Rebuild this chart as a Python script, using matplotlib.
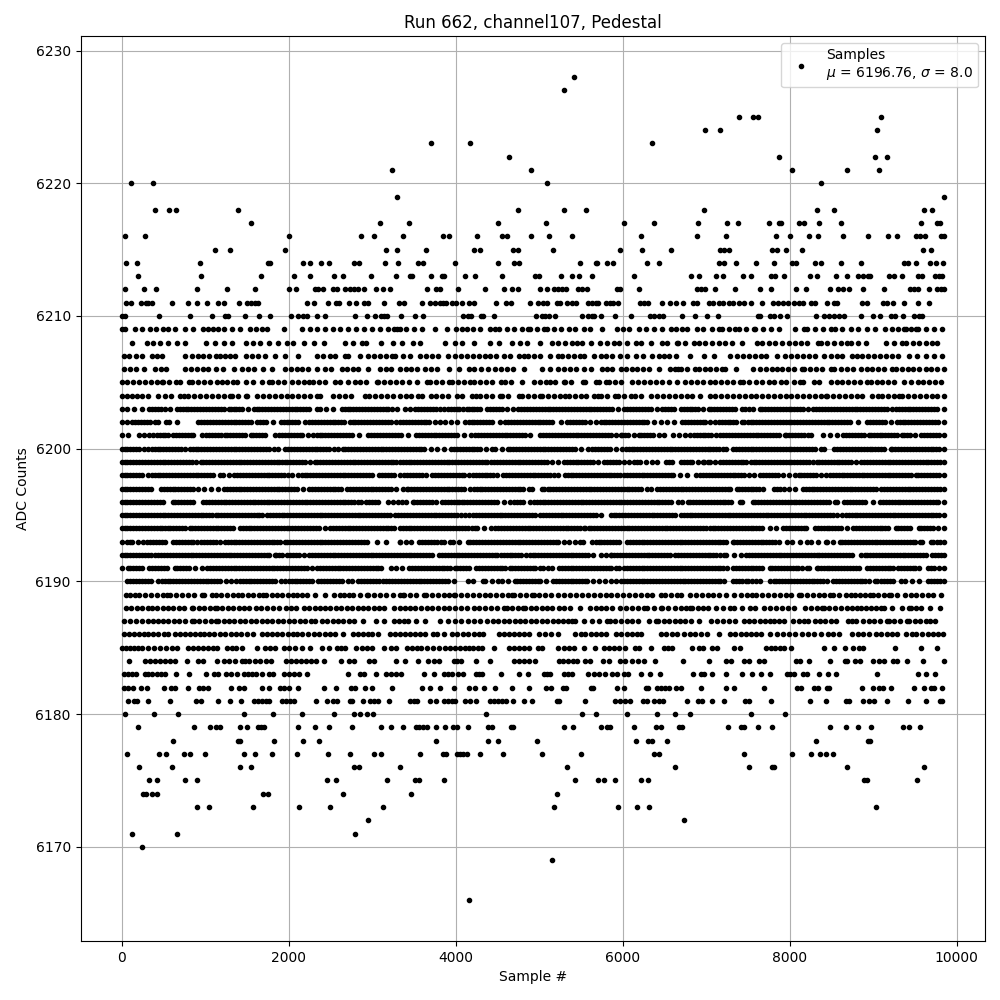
# pedestal samples of one ADC channel, one list of sample numbers per ADC level
import matplotlib
matplotlib.use("Agg")
import matplotlib.pyplot as plt

s6166 = [4160]
s6169 = [5148]
s6170 = [248]
s6171 = [128, 668, 2792]
s6172 = [2948, 6732]
s6173 = [908, 1052, 1568, 2120, 2492, 3128, 5172, 5940, 6168, 6312, 9036]
s6174 = [260, 292, 368, 428, 1688, 1748, 2648, 3464, 5208]
s6175 = [332, 428, 764, 908, 2456, 2564, 3176, 3512, 3560, 3860, 5424, 5700, 5772, 5904, 6216, 6300, 8892, 8928, 9528]
s6176 = [212, 608, 1412, 1544, 2780, 2840, 3332, 5328, 6624, 7512, 7788, 7812, 8688, 9612]
s6177 = [68, 452, 536, 752, 824, 1004, 1460, 1592, 1796, 2096, 2468, 2732, 3020, 3104, 3572, 3848, 3884, 4016, 4052, 4088, 4136,
         4292, 4568, 5028, 5496, 6372, 6432, 7452, 8028, 8256, 8364, 8436, 8520]
s6178 = [620, 1388, 1412, 1820, 2168, 2360, 3764, 4388, 4508, 4968, 6156, 6300, 6348, 6528, 8316, 8940, 8964]
s6179 = [200, 872, 1064, 1136, 1172, 1412, 1496, 1628, 1664, 1700, 2108, 2312, 2480, 2756, 3104, 3220, 3368, 3524, 3560, 3608, 3656,
         3764, 3872, 3968, 4016, 4148, 4388, 4436, 4664, 4688, 5292, 5400, 5736, 5808, 5844, 6132, 6404, 6464, 6672, 6708, 7260,
         7416, 7452, 7620, 7788, 8484, 8676, 8820, 8976, 9360, 9432, 9564]
s6180 = [44, 392, 680, 1460, 1808, 2156, 2540, 2780, 2852, 2936, 3008, 4364, 5508, 5676, 6048, 6408, 6624, 6804, 7536, 7944]
s6181 = [80, 152, 188, 320, 584, 896, 956, 1160, 1292, 1424, 1580, 1628, 1676, 1724, 1760, 1916, 1964, 2012, 2060, 2324, 2456, 2528,
         2576, 2732, 2760, 2888, 2972, 3020, 3068, 3200, 3452, 3500, 3536, 3692, 3764, 3860, 3908, 3956, 3992, 4112, 4172, 4244,
         4412, 4460, 4508, 4556, 4604, 4688, 4820, 4912, 5208, 5232, 5544, 5904, 5964, 6024, 6084, 6240, 6288, 6372, 6432, 6480,
         6768, 6900, 6948, 7068, 7212, 7464, 7512, 7776, 8244, 8436, 8676, 8712, 8880, 8952, 9012, 9168, 9420, 9636, 9804, 9828]
s6182 = [32, 80, 140, 236, 308, 512, 596, 636, 800, 932, 980, 1040, 1304, 1400, 1460, 1676, 1760, 1892, 1940, 2000, 2108, 2420, 2564,
         2744, 2792, 2912, 2996, 3236, 3596, 3692, 3812, 3980, 4160, 4232, 4336, 4472, 4676, 4880, 5076, 5136, 5280, 5316, 5616,
         5640, 5928, 6012, 6276, 6300, 6408, 6456, 6504, 6552, 6636, 6696, 6936, 7236, 7332, 7692, 8088, 8136, 8292, 8340, 8448,
         8472, 8868, 9000, 9072, 9120, 9216, 9492, 9612, 9696, 9732, 9828]
s6183 = [32, 80, 120, 172, 280, 320, 360, 420, 470, 520, 648, 812, 1016, 1112, 1160, 1248, 1310, 1380, 1460, 1510, 1560, 1612, 1680,
         1760, 1812, 1948, 2005, 2060, 2120, 2220, 2708, 2852, 2900, 3044, 3164, 3220, 3280, 3344, 3620, 3740, 3860, 3910, 3960,
         4032, 4088, 4240, 4280, 4320, 4548, 4760, 4860, 5052, 5092, 5132, 5292, 5342, 5392, 5580, 5652, 5712, 5792, 5872, 5932,
         6012, 6064, 6224, 6332, 6444, 6840, 6932, 6972, 7072, 7240, 7432, 7552, 7656, 7764, 7964, 8008, 8052, 8160, 8212, 8352,
         8460, 8556, 9040, 9532, 9636, 9744]
s6184 = [92, 280, 340, 400, 460, 520, 580, 640, 788, 920, 980, 1148, 1220, 1280, 1360, 1440, 1480, 1520, 1600, 1660, 1732, 1788, 1968,
         2030, 2090, 2150, 2210, 2270, 2330, 2420, 2628, 2720, 2780, 2960, 3020, 3280, 3392, 3548, 3668, 3740, 3800, 3980, 4020,
         4068, 4240, 4412, 4700, 4760, 4820, 4880, 4948, 5232, 5290, 5350, 5400, 5452, 5544, 5604, 5764, 5832, 5972, 6032, 6112,
         6180, 6252, 6384, 6720, 7032, 7232, 7296, 7452, 7512, 7632, 7692, 8076, 8124, 8232, 8484, 8664, 8688, 8784, 8844, 9000,
         9072, 9132, 9240, 9288, 9408, 9600, 9845]
s6185 = [0, 50, 100, 150, 200, 240, 315, 390, 460, 530, 600, 660, 800, 860, 920, 980, 1040, 1090, 1140, 1260, 1316, 1372, 1436, 1620,
         1712, 1776, 1840, 1940, 2010, 2080, 2160, 2260, 2400, 2480, 2580, 2630, 2680, 2804, 2880, 2940, 3000, 3140, 3220, 3284,
         3420, 3476, 3532, 3580, 3660, 3730, 3800, 3868, 3930, 3990, 4050, 4110, 4160, 4212, 4266, 4320, 4460, 4640, 4700, 4760,
         4820, 4880, 4988, 5028, 5224, 5292, 5352, 5412, 5532, 5664, 5780, 5840, 5900, 5960, 6032, 6152, 6192, 6336, 6492, 6542,
         6592, 6824, 6912, 6964, 7072, 7132, 7332, 7404, 7716, 7770, 7824, 7878, 7932, 8016, 8412, 8532, 8664, 8752, 8832, 8872,
         9264, 9576, 9768]
s6186 = [30, 90, 150, 210, 270, 320, 380, 440, 505, 550, 640, 700, 760, 820, 880, 940, 985, 1045, 1110, 1175, 1240, 1305, 1370, 1435,
         1500, 1575, 1685, 1745, 1805, 1865, 1925, 1990, 2055, 2095, 2165, 2235, 2300, 2365, 2430, 2495, 2560, 2655, 2765, 2830,
         2890, 2950, 2995, 3070, 3210, 3270, 3330, 3390, 3450, 3510, 3570, 3630, 3734, 3782, 3854, 3954, 4020, 4085, 4150, 4215,
         4280, 4324, 4518, 4580, 4640, 4700, 4760, 4820, 4882, 4994, 5066, 5138, 5222, 5434, 5498, 5554, 5620, 5680, 5734, 5794,
         5914, 5980, 6050, 6115, 6170, 6214, 6454, 6520, 6590, 6654, 6728, 6800, 6870, 6940, 7008, 7148, 7280, 7345, 7410, 7475,
         7540, 7600, 7656, 7760, 7848, 7920, 7995, 8068, 8148, 8220, 8295, 8368, 8456, 8520, 8588, 8748, 8815, 8880, 8948, 9028,
         9095, 9160, 9220, 9280, 9388, 9468, 9508, 9580, 9656, 9716, 9780, 9840]
s6187 = [30, 100, 170, 240, 310, 380, 430, 495, 560, 625, 690, 760, 840, 865, 930, 1000, 1065, 1130, 1155, 1220, 1285, 1350, 1415, 1480,
         1545, 1610, 1675, 1740, 1805, 1870, 1935, 2000, 2065, 2130, 2195, 2265, 2315, 2395, 2460, 2525, 2590, 2655, 2720, 2785,
         2885, 3050, 3140, 3260, 3320, 3382, 3434, 3526, 3634, 3814, 3902, 3994, 4066, 4142, 4215, 4286, 4374, 4446, 4510, 4575,
         4640, 4705, 4770, 4835, 4900, 4965, 5034, 5094, 5160, 5225, 5290, 5345, 5394, 5434, 5534, 5634, 5718, 5814, 5842, 5910,
         5980, 6050, 6115, 6182, 6314, 6394, 6422, 6490, 6555, 6620, 6686, 6750, 6820, 6908, 7060, 7130, 7200, 7275, 7348, 7448,
         7510, 7576, 7640, 7705, 7768, 7808, 7870, 7936, 8040, 8105, 8168, 8216, 8296, 8360, 8425, 8490, 8548, 8696, 8745, 8788,
         8880, 8948, 9010, 9080, 9160, 9188, 9250, 9320, 9400, 9428, 9495, 9560, 9625, 9680, 9736]
s6188 = [50, 115, 180, 245, 310, 360, 425, 490, 555, 620, 685, 750, 840, 860, 925, 990, 1055, 1120, 1140, 1205, 1270, 1335, 1400, 1465,
         1530, 1610, 1670, 1740, 1810, 1885, 1965, 2030, 2085, 2180, 2245, 2310, 2375, 2435, 2500, 2565, 2630, 2695, 2760, 2825, 2890,
         2955, 3020, 3085, 3145, 3260, 3330, 3390, 3450, 3514, 3582, 3654, 3720, 3790, 3855, 3924, 3994, 4060, 4130, 4214, 4282,
         4346, 4420, 4495, 4574, 4614, 4680, 4745, 4802, 4834, 4900, 4965, 5030, 5094, 5158, 5234, 5300, 5374, 5486, 5606, 5674,
         5740, 5805, 5874, 5966, 6034, 6110, 6180, 6254, 6294, 6375, 6454, 6474, 6540, 6620, 6694, 6760, 6808, 6828, 6900, 6960,
         7016, 7116, 7200, 7280, 7336, 7430, 7520, 7588, 7688, 7760, 7830, 7905, 7975, 8048, 8180, 8250, 8320, 8388, 8408, 8475,
         8540, 8610, 8680, 8745, 8800, 8848, 8910, 8975, 9035, 9088, 9130, 9228, 9348, 9428, 9456, 9510, 9568, 9680, 9800]
s6189 = [50, 105, 160, 210, 280, 350, 420, 490, 540, 585, 655, 725, 795, 865, 960, 985, 1085, 1125, 1195, 1265, 1335, 1395, 1445, 1510,
         1575, 1640, 1695, 1725, 1795, 1860, 1925, 1990, 2055, 2095, 2155, 2215, 2315, 2435, 2545, 2610, 2665, 2725, 2775, 2855,
         2935, 2955, 3025, 3095, 3165, 3250, 3330, 3366, 3386, 3450, 3520, 3622, 3646, 3715, 3785, 3855, 3925, 3974, 3994, 4065,
         4135, 4205, 4275, 4345, 4415, 4485, 4555, 4625, 4674, 4702, 4770, 4840, 4914, 4934, 5000, 5070, 5140, 5226, 5294, 5374,
         5445, 5515, 5585, 5655, 5725, 5795, 5865, 5935, 6005, 6075, 6145, 6215, 6285, 6355, 6454, 6506, 6575, 6646, 6700, 6808,
         6875, 6945, 7015, 7085, 7155, 7240, 7336, 7420, 7485, 7548, 7600, 7670, 7740, 7810, 7880, 7950, 8020, 8108, 8136, 8205,
         8275, 8345, 8415, 8476, 8520, 8595, 8668, 8728, 8785, 8845, 8905, 8960, 9000, 9060, 9125, 9188, 9216, 9285, 9376, 9448,
         9515, 9580, 9650, 9720, 9816]
s6190 = [70, 105, 140, 175, 210, 245, 280, 315, 350, 440, 480, 515, 550, 585, 620, 655, 690, 725, 760, 795, 830, 865, 900, 935, 970, 1005,
         1040, 1075, 1110, 1145, 1175, 1250, 1310, 1375, 1415, 1450, 1485, 1520, 1555, 1590, 1625, 1660, 1695, 1730, 1765, 1800, 1835,
         1905, 1955, 2000, 2035, 2070, 2105, 2140, 2175, 2210, 2245, 2280, 2355, 2390, 2425, 2460, 2495, 2530, 2565, 2600, 2635, 2715,
         2760, 2835, 2870, 2905, 2940, 2975, 3010, 3045, 3080, 3130, 3170, 3205, 3240, 3275, 3310, 3345, 3380, 3415, 3450, 3485, 3520,
         3555, 3590, 3625, 3660, 3695, 3730, 3765, 3800, 3835, 3870, 3905, 3974, 4142, 4210, 4326, 4354, 4430, 4502, 4554, 4630, 4714,
         4734, 4770, 4805, 4840, 4875, 4910, 4945, 4980, 5006, 5086, 5166, 5200, 5235, 5270, 5305, 5340, 5375, 5410, 5445, 5480, 5515,
         5545, 5574, 5642, 5714, 5786, 5860, 5920, 5974, 6014, 6050, 6085, 6120, 6155, 6190, 6225, 6260, 6295, 6330, 6365, 6400, 6435,
         6470, 6505, 6540, 6575, 6610, 6645, 6680, 6720, 6748, 6785, 6820, 6855, 6890, 6925, 6960, 6995, 7030, 7065, 7100, 7135, 7170,
         7216, 7320, 7355, 7395, 7430, 7470, 7505, 7545, 7600, 7648, 7768, 7805, 7840, 7875, 7910, 7945, 7980, 8015, 8050, 8085, 8120,
         8155, 8190, 8225, 8260, 8295, 8330, 8365, 8400, 8440, 8516, 8550, 8590, 8625, 8660, 8695, 8730, 8765, 8800, 8835, 8870, 8905,
         8948, 9016, 9050, 9090, 9125, 9160, 9195, 9230, 9328, 9376, 9460, 9548, 9656, 9690, 9730, 9765, 9800, 9845]
s6191 = [0, 80, 100, 135, 170, 205, 240, 330, 365, 400, 435, 470, 505, 540, 640, 665, 700, 735, 770, 805, 880, 960, 1025, 1060, 1095, 1130,
         1165, 1200, 1235, 1270, 1305, 1340, 1375, 1410, 1445, 1480, 1515, 1550, 1585, 1620, 1655, 1690, 1725, 1760, 1795, 1830, 1865,
         1900, 1935, 1970, 2005, 2040, 2075, 2110, 2145, 2180, 2215, 2275, 2340, 2375, 2410, 2445, 2480, 2515, 2550, 2585, 2620, 2655,
         2690, 2725, 2760, 2795, 2830, 2865, 2900, 2935, 2970, 3005, 3040, 3075, 3110, 3230, 3290, 3360, 3446, 3480, 3515, 3550, 3585,
         3620, 3655, 3690, 3725, 3760, 3795, 3830, 3865, 3900, 3935, 3994, 4014, 4050, 4085, 4125, 4164, 4244, 4280, 4315, 4350, 4385,
         4420, 4455, 4490, 4525, 4560, 4595, 4646, 4674, 4710, 4745, 4780, 4815, 4850, 4885, 4920, 4955, 5014, 5046, 5102, 5150, 5234,
         5270, 5305, 5340, 5375, 5410, 5445, 5480, 5515, 5550, 5585, 5620, 5655, 5690, 5725, 5760, 5795, 5830, 5865, 5914, 5954, 6014,
         6050, 6085, 6120, 6155, 6190, 6225, 6260, 6295, 6330, 6365, 6400, 6435, 6470, 6505, 6540, 6575, 6610, 6645, 6680, 6715, 6750,
         6785, 6820, 6855, 6890, 6925, 6960, 6995, 7030, 7065, 7100, 7135, 7170, 7205, 7248, 7320, 7355, 7390, 7425, 7460, 7495, 7530,
         7565, 7600, 7635, 7670, 7768, 7788, 7825, 7860, 7895, 7930, 7965, 8000, 8040, 8080, 8096, 8150, 8208, 8228, 8320, 8336, 8370,
         8405, 8440, 8475, 8510, 8545, 8580, 8615, 8650, 8685, 8720, 8755, 8790, 8825, 8928, 8960, 8995, 9030, 9065, 9100, 9135, 9170,
         9205, 9240, 9296, 9328, 9365, 9400, 9435, 9470, 9505, 9548, 9656, 9690, 9725, 9788, 9845]
s6192 = [0, 35, 70, 105, 140, 175, 210, 245, 280, 315, 350, 400, 440, 475, 510, 545, 580, 615, 650, 685, 720, 755, 790, 825, 860, 895, 930,
         965, 1000, 1035, 1070, 1105, 1140, 1175, 1210, 1245, 1280, 1315, 1350, 1385, 1420, 1455, 1490, 1525, 1560, 1595, 1630, 1665,
         1700, 1735, 1770, 1835, 1850, 1885, 1920, 1985, 2020, 2055, 2090, 2125, 2185, 2245, 2280, 2315, 2350, 2385, 2420, 2455, 2490,
         2525, 2560, 2595, 2630, 2665, 2700, 2735, 2770, 2805, 2840, 2875, 2910, 2945, 2980, 3015, 3050, 3085, 3120, 3155, 3190, 3225,
         3260, 3295, 3330, 3365, 3400, 3435, 3470, 3505, 3540, 3575, 3610, 3645, 3680, 3715, 3802, 3834, 3870, 3905, 3940, 3975, 4010,
         4045, 4080, 4115, 4150, 4185, 4220, 4255, 4290, 4325, 4360, 4395, 4430, 4465, 4500, 4546, 4574, 4610, 4645, 4680, 4715, 4750,
         4785, 4846, 4886, 4920, 4955, 4990, 5025, 5060, 5095, 5130, 5165, 5200, 5235, 5270, 5305, 5340, 5375, 5410, 5445, 5480, 5515,
         5550, 5585, 5646, 5742, 5800, 5854, 5862, 5900, 5935, 5970, 6005, 6040, 6075, 6110, 6145, 6180, 6215, 6250, 6285, 6320, 6355,
         6390, 6425, 6460, 6495, 6530, 6568, 6628, 6665, 6700, 6735, 6770, 6805, 6840, 6875, 6910, 6945, 6980, 7015, 7050, 7085, 7120,
         7160, 7208, 7240, 7328, 7416, 7480, 7515, 7550, 7585, 7620, 7655, 7690, 7725, 7760, 7795, 7830, 7865, 7900, 7935, 7970, 8005,
         8040, 8075, 8110, 8145, 8180, 8215, 8250, 8285, 8320, 8355, 8390, 8425, 8460, 8495, 8530, 8565, 8600, 8635, 8670, 8705, 8740,
         8848, 8896, 8930, 8965, 9000, 9035, 9070, 9105, 9140, 9175, 9210, 9245, 9280, 9315, 9350, 9385, 9420, 9455, 9490, 9525, 9560,
         9595, 9630, 9708, 9740, 9775, 9810, 9845]
s6193 = [0, 65, 100, 130, 195, 260, 305, 340, 375, 410, 445, 480, 515, 620, 650, 685, 720, 755, 790, 825, 860, 900, 955, 990, 1025, 1060,
         1095, 1130, 1175, 1235, 1270, 1305, 1340, 1375, 1410, 1445, 1480, 1515, 1550, 1585, 1620, 1655, 1690, 1725, 1760, 1795, 1830,
         1865, 1900, 1955, 1985, 2020, 2055, 2090, 2125, 2160, 2195, 2230, 2265, 2300, 2335, 2370, 2405, 2440, 2475, 2510, 2545, 2580,
         2615, 2650, 2685, 2725, 2760, 2795, 2830, 2865, 2900, 2935, 3055, 3165, 3330, 3334, 3400, 3470, 3566, 3594, 3634, 3670, 3705,
         3740, 3775, 3820, 3862, 3926, 3966, 4040, 4142, 4174, 4210, 4245, 4280, 4315, 4350, 4385, 4420, 4455, 4490, 4526, 4566, 4600,
         4635, 4670, 4705, 4740, 4775, 4810, 4845, 4880, 4915, 4950, 4985, 5020, 5055, 5090, 5125, 5160, 5195, 5230, 5294, 5362, 5430,
         5494, 5526, 5634, 5674, 5710, 5745, 5780, 5815, 5850, 5885, 5920, 5955, 6054, 6086, 6120, 6155, 6190, 6225, 6260, 6295, 6330,
         6365, 6400, 6435, 6470, 6505, 6540, 6575, 6610, 6645, 6680, 6715, 6750, 6785, 6820, 6855, 6890, 6925, 6960, 6995, 7030, 7065,
         7100, 7135, 7170, 7205, 7240, 7320, 7336, 7370, 7405, 7440, 7475, 7510, 7545, 7580, 7615, 7650, 7685, 7720, 7755, 7790, 7828,
         7868, 7968, 8028, 8128, 8208, 8248, 8340, 8428, 8448, 8520, 8600, 8628, 8665, 8700, 8735, 8770, 8805, 8840, 8875, 8910, 8945,
         8980, 9015, 9050, 9085, 9120, 9155, 9190, 9225, 9260, 9295, 9330, 9365, 9400, 9435, 9470, 9505, 9560, 9588, 9688, 9720, 9760,
         9800, 9845]
s6194 = [0, 35, 70, 105, 140, 175, 210, 245, 280, 315, 350, 385, 420, 460, 480, 515, 550, 585, 620, 655, 690, 725, 760, 820, 845, 880, 915,
         950, 985, 1020, 1055, 1090, 1125, 1160, 1195, 1230, 1265, 1300, 1335, 1420, 1450, 1485, 1520, 1555, 1590, 1625, 1660, 1695, 1730,
         1765, 1800, 1835, 1870, 1905, 1940, 1975, 2010, 2045, 2080, 2115, 2150, 2185, 2220, 2255, 2290, 2325, 2360, 2430, 2495, 2530,
         2565, 2600, 2635, 2670, 2705, 2740, 2775, 2810, 2845, 2880, 2915, 2950, 2985, 3020, 3055, 3090, 3125, 3160, 3195, 3230, 3265,
         3330, 3365, 3400, 3435, 3470, 3505, 3540, 3575, 3610, 3645, 3680, 3715, 3750, 3785, 3820, 3855, 3894, 3934, 3970, 4005, 4040,
         4075, 4110, 4145, 4190, 4234, 4260, 4340, 4418, 4474, 4510, 4545, 4580, 4615, 4650, 4685, 4720, 4755, 4790, 4825, 4860, 4895,
         4930, 4965, 5000, 5035, 5070, 5105, 5140, 5175, 5210, 5245, 5280, 5315, 5350, 5385, 5420, 5455, 5490, 5534, 5554, 5590, 5625,
         5660, 5695, 5730, 5765, 5800, 5835, 5870, 5905, 5940, 5975, 6010, 6045, 6080, 6115, 6150, 6185, 6220, 6255, 6290, 6325, 6360,
         6395, 6430, 6465, 6500, 6535, 6570, 6605, 6640, 6675, 6710, 6745, 6780, 6815, 6850, 6885, 6920, 6955, 7000, 7040, 7080, 7108,
         7145, 7180, 7215, 7250, 7285, 7320, 7355, 7390, 7425, 7460, 7495, 7530, 7565, 7600, 7635, 7670, 7768, 7836, 7920, 7955, 7990,
         8025, 8060, 8095, 8130, 8165, 8200, 8296, 8336, 8370, 8405, 8440, 8475, 8510, 8545, 8580, 8615, 8688, 8760, 8795, 8830, 8865,
         8900, 8935, 8970, 9005, 9040, 9075, 9110, 9145, 9180, 9268, 9296, 9330, 9365, 9400, 9435, 9548, 9576, 9610, 9645, 9680, 9715,
         9780, 9845]
s6195 = [0, 35, 70, 105, 140, 175, 210, 245, 280, 315, 350, 385, 420, 455, 490, 525, 560, 595, 630, 665, 700, 735, 770, 805, 840, 875, 910,
         945, 980, 1015, 1050, 1085, 1130, 1160, 1195, 1230, 1265, 1300, 1335, 1370, 1405, 1440, 1475, 1510, 1545, 1580, 1615, 1650, 1685,
         1735, 1775, 1810, 1845, 1880, 1915, 1950, 1985, 2020, 2055, 2090, 2125, 2160, 2195, 2230, 2265, 2300, 2335, 2370, 2405, 2440,
         2475, 2510, 2545, 2580, 2615, 2650, 2685, 2720, 2755, 2790, 2825, 2860, 2895, 2930, 2965, 3000, 3035, 3070, 3105, 3140, 3175,
         3210, 3270, 3314, 3350, 3385, 3420, 3455, 3490, 3525, 3560, 3595, 3630, 3665, 3700, 3735, 3770, 3805, 3840, 3875, 3910, 3945,
         3980, 4015, 4060, 4114, 4154, 4202, 4246, 4280, 4315, 4350, 4385, 4420, 4455, 4490, 4525, 4560, 4595, 4630, 4665, 4700, 4735,
         4770, 4805, 4840, 4875, 4910, 4945, 5014, 5042, 5080, 5115, 5150, 5185, 5220, 5255, 5290, 5325, 5360, 5395, 5430, 5465, 5500,
         5535, 5570, 5605, 5640, 5680, 5734, 5854, 5890, 5925, 5960, 5995, 6030, 6065, 6100, 6135, 6170, 6205, 6240, 6275, 6310, 6345,
         6380, 6415, 6450, 6485, 6520, 6555, 6590, 6625, 6696, 6728, 6765, 6800, 6835, 6870, 6905, 6940, 6975, 7010, 7045, 7080, 7115,
         7150, 7185, 7220, 7255, 7290, 7325, 7360, 7395, 7430, 7465, 7500, 7535, 7570, 7605, 7640, 7675, 7710, 7745, 7780, 7815, 7850,
         7885, 7920, 7955, 7990, 8025, 8060, 8095, 8130, 8165, 8200, 8235, 8270, 8305, 8340, 8375, 8410, 8445, 8480, 8520, 8568, 8628,
         8668, 8705, 8740, 8775, 8810, 8845, 8880, 8915, 8950, 8985, 9020, 9055, 9090, 9125, 9160, 9195, 9230, 9265, 9300, 9335, 9370,
         9405, 9440, 9475, 9510, 9545, 9580, 9615, 9650, 9685, 9720, 9755, 9790, 9845]
s6196 = [0, 35, 70, 105, 140, 175, 210, 245, 280, 315, 350, 385, 420, 455, 490, 610, 640, 675, 710, 745, 780, 815, 850, 975, 1010, 1045, 1080,
         1115, 1150, 1185, 1220, 1255, 1290, 1325, 1360, 1395, 1430, 1465, 1500, 1535, 1570, 1595, 1630, 1665, 1700, 1735, 1770, 1805,
         1840, 1875, 1910, 1945, 1980, 2015, 2050, 2085, 2120, 2155, 2190, 2225, 2260, 2295, 2330, 2365, 2400, 2435, 2470, 2505, 2540,
         2575, 2610, 2645, 2680, 2715, 2750, 2785, 2830, 2870, 2930, 2965, 3000, 3035, 3070, 3190, 3250, 3314, 3355, 3400, 3486, 3502,
         3540, 3575, 3610, 3645, 3680, 3715, 3760, 3834, 3874, 3910, 3945, 3980, 4014, 4034, 4070, 4105, 4140, 4175, 4210, 4245, 4280,
         4315, 4350, 4385, 4420, 4455, 4490, 4574, 4646, 4694, 4730, 4765, 4800, 4894, 4934, 4970, 5005, 5040, 5075, 5110, 5145, 5180,
         5215, 5250, 5285, 5320, 5355, 5390, 5425, 5460, 5495, 5530, 5565, 5600, 5635, 5670, 5705, 5740, 5775, 5810, 5845, 5880, 5915,
         5950, 5985, 6020, 6055, 6090, 6125, 6160, 6195, 6230, 6265, 6300, 6335, 6370, 6405, 6440, 6475, 6510, 6545, 6580, 6656, 6708,
         6776, 6808, 6845, 6880, 6915, 6950, 6985, 7020, 7055, 7090, 7125, 7160, 7195, 7230, 7265, 7300, 7408, 7428, 7560, 7588, 7625,
         7660, 7695, 7730, 7765, 7800, 7835, 7870, 7905, 7940, 7975, 8010, 8045, 8080, 8115, 8150, 8185, 8220, 8255, 8290, 8325, 8360,
         8395, 8430, 8465, 8540, 8568, 8648, 8688, 8725, 8760, 8795, 8830, 8865, 8900, 8996, 9080, 9115, 9150, 9185, 9220, 9255, 9290,
         9325, 9360, 9395, 9430, 9465, 9500, 9535, 9570, 9605, 9640, 9675, 9710, 9745, 9780, 9845]
s6197 = [0, 35, 70, 105, 140, 175, 210, 245, 280, 315, 350, 470, 505, 540, 575, 610, 645, 680, 715, 750, 785, 820, 855, 915, 990, 1075, 1155,
         1225, 1260, 1295, 1330, 1365, 1400, 1435, 1470, 1505, 1540, 1575, 1610, 1645, 1680, 1715, 1750, 1785, 1820, 1855, 1890, 1925,
         1960, 1995, 2030, 2065, 2100, 2175, 2245, 2280, 2315, 2350, 2385, 2420, 2455, 2490, 2525, 2560, 2595, 2630, 2695, 2735, 2770,
         2805, 2840, 2875, 2910, 2945, 2980, 3015, 3050, 3085, 3120, 3155, 3190, 3230, 3280, 3370, 3414, 3434, 3470, 3505, 3540, 3575,
         3610, 3645, 3680, 3715, 3750, 3785, 3820, 3855, 3890, 3925, 3960, 3995, 4030, 4065, 4100, 4174, 4214, 4250, 4285, 4320, 4355,
         4390, 4425, 4460, 4495, 4530, 4565, 4600, 4635, 4670, 4705, 4740, 4775, 4810, 4874, 4914, 5034, 5062, 5100, 5135, 5170, 5205,
         5240, 5275, 5310, 5345, 5380, 5415, 5450, 5485, 5520, 5555, 5590, 5625, 5660, 5695, 5730, 5765, 5800, 5835, 5870, 5905, 5940,
         5975, 6010, 6045, 6080, 6115, 6150, 6185, 6220, 6294, 6342, 6414, 6450, 6485, 6520, 6555, 6590, 6625, 6660, 6694, 6725, 6760,
         6795, 6830, 6865, 6900, 6935, 6970, 7005, 7040, 7080, 7120, 7148, 7185, 7220, 7255, 7290, 7368, 7388, 7425, 7460, 7495, 7530,
         7565, 7600, 7635, 7680, 7808, 7845, 7880, 7930, 7988, 8060, 8156, 8190, 8225, 8260, 8295, 8330, 8365, 8400, 8435, 8470, 8505,
         8540, 8575, 8610, 8645, 8680, 8715, 8750, 8785, 8820, 8855, 8890, 8925, 8960, 8995, 9030, 9096, 9128, 9165, 9200, 9235, 9270,
         9305, 9340, 9375, 9410, 9445, 9480, 9515, 9550, 9585, 9620, 9655, 9690, 9725, 9760, 9795, 9845]
s6198 = [0, 35, 70, 105, 140, 175, 210, 245, 320, 360, 395, 430, 465, 500, 535, 570, 605, 640, 675, 710, 745, 780, 815, 850, 885, 920, 955, 990,
         1025, 1060, 1095, 1175, 1210, 1290, 1350, 1385, 1420, 1455, 1490, 1525, 1560, 1595, 1630, 1665, 1700, 1735, 1770, 1805, 1840,
         1875, 1910, 1945, 1995, 2035, 2115, 2155, 2190, 2225, 2260, 2295, 2330, 2365, 2400, 2435, 2470, 2505, 2540, 2575, 2610, 2645,
         2680, 2715, 2750, 2785, 2820, 2855, 2890, 2925, 2960, 2995, 3085, 3120, 3155, 3190, 3225, 3260, 3334, 3382, 3420, 3455, 3490,
         3525, 3560, 3595, 3650, 3714, 3754, 3790, 3825, 3860, 3895, 3930, 3965, 4000, 4035, 4070, 4105, 4154, 4202, 4240, 4275, 4310,
         4345, 4380, 4415, 4450, 4495, 4566, 4602, 4640, 4675, 4710, 4745, 4780, 4815, 4850, 4885, 4920, 4955, 4990, 5025, 5060, 5095,
         5135, 5174, 5220, 5306, 5340, 5375, 5410, 5445, 5480, 5515, 5550, 5585, 5620, 5655, 5690, 5725, 5760, 5795, 5830, 5865, 5900,
         5935, 5970, 6010, 6054, 6086, 6120, 6155, 6190, 6225, 6260, 6295, 6330, 6365, 6400, 6435, 6470, 6505, 6540, 6575, 6600, 6688,
         6768, 6880, 6928, 6965, 7000, 7035, 7070, 7105, 7140, 7175, 7210, 7245, 7280, 7315, 7350, 7385, 7420, 7455, 7508, 7568, 7648,
         7685, 7720, 7755, 7790, 7825, 7860, 7920, 7988, 8068, 8105, 8140, 8175, 8210, 8245, 8280, 8315, 8368, 8432, 8480, 8515, 8550,
         8585, 8620, 8655, 8690, 8725, 8760, 8795, 8830, 8868, 8888, 8925, 8960, 8995, 9030, 9065, 9100, 9135, 9170, 9205, 9240, 9275,
         9310, 9345, 9380, 9415, 9450, 9508, 9536, 9575, 9610, 9645, 9680, 9715, 9750, 9785, 9845]
s6199 = [0, 35, 70, 105, 140, 175, 210, 245, 280, 315, 350, 385, 420, 455, 490, 525, 560, 595, 630, 665, 700, 735, 770, 805, 840, 890, 945, 980,
         1015, 1050, 1085, 1120, 1155, 1190, 1225, 1260, 1295, 1330, 1365, 1400, 1435, 1470, 1505, 1540, 1575, 1610, 1645, 1680, 1715,
         1750, 1785, 1820, 1855, 1890, 1925, 1955, 1985, 2020, 2055, 2090, 2125, 2160, 2195, 2250, 2315, 2345, 2380, 2415, 2450, 2485,
         2520, 2555, 2590, 2625, 2660, 2695, 2730, 2765, 2800, 2835, 2870, 2905, 2940, 2975, 3010, 3045, 3080, 3115, 3150, 3185, 3220,
         3255, 3290, 3330, 3365, 3400, 3435, 3470, 3505, 3540, 3575, 3610, 3645, 3680, 3715, 3750, 3785, 3820, 3855, 3890, 3925, 3960,
         3995, 4030, 4065, 4100, 4135, 4170, 4205, 4240, 4275, 4310, 4345, 4380, 4420, 4460, 4494, 4530, 4565, 4600, 4635, 4670, 4705,
         4740, 4775, 4810, 4845, 4880, 4915, 4950, 4985, 5020, 5055, 5090, 5154, 5222, 5294, 5330, 5365, 5400, 5435, 5470, 5505, 5540,
         5575, 5610, 5645, 5700, 5774, 5814, 5850, 5885, 5920, 5955, 6020, 6078, 6134, 6170, 6205, 6280, 6346, 6414, 6514, 6550, 6585,
         6694, 6730, 6765, 6800, 6835, 6900, 6960, 6976, 7015, 7050, 7110, 7168, 7200, 7235, 7270, 7305, 7340, 7375, 7410, 7445, 7480,
         7530, 7576, 7600, 7635, 7670, 7705, 7740, 7775, 7810, 7845, 7880, 7915, 7950, 7985, 8020, 8055, 8090, 8125, 8160, 8195, 8230,
         8280, 8328, 8348, 8385, 8420, 8455, 8490, 8525, 8560, 8595, 8628, 8656, 8695, 8730, 8790, 8848, 8888, 8925, 8960, 8995, 9030,
         9065, 9100, 9135, 9170, 9205, 9240, 9275, 9310, 9345, 9380, 9415, 9450, 9485, 9520, 9555, 9590, 9625, 9660, 9695, 9730, 9765,
         9800, 9845]
s6200 = [0, 35, 70, 105, 140, 175, 210, 265, 320, 360, 395, 430, 465, 500, 535, 570, 605, 640, 675, 710, 760, 820, 850, 885, 920, 955, 990, 1025,
         1060, 1095, 1130, 1165, 1200, 1235, 1270, 1305, 1340, 1375, 1410, 1445, 1480, 1515, 1550, 1585, 1620, 1655, 1690, 1725, 1760,
         1820, 1875, 1955, 1995, 2030, 2065, 2100, 2135, 2170, 2205, 2240, 2275, 2310, 2345, 2380, 2415, 2450, 2485, 2540, 2595, 2645,
         2680, 2715, 2750, 2785, 2820, 2855, 2890, 2925, 2960, 2995, 3030, 3065, 3100, 3135, 3170, 3205, 3240, 3275, 3310, 3345, 3380,
         3415, 3450, 3485, 3520, 3555, 3590, 3625, 3700, 3782, 3854, 3942, 3980, 4015, 4050, 4085, 4120, 4155, 4190, 4225, 4260, 4295,
         4360, 4434, 4474, 4550, 4622, 4654, 4690, 4725, 4760, 4795, 4830, 4865, 4900, 4935, 4970, 5005, 5040, 5075, 5110, 5145, 5180,
         5215, 5250, 5285, 5320, 5355, 5390, 5425, 5500, 5580, 5634, 5670, 5705, 5740, 5775, 5810, 5845, 5920, 5994, 6034, 6070, 6105,
         6140, 6175, 6210, 6245, 6280, 6315, 6350, 6385, 6420, 6455, 6490, 6525, 6560, 6595, 6630, 6665, 6700, 6735, 6770, 6805, 6840,
         6875, 6910, 6945, 6980, 7015, 7050, 7085, 7120, 7155, 7200, 7240, 7320, 7355, 7390, 7425, 7460, 7495, 7530, 7565, 7600, 7635,
         7670, 7705, 7740, 7775, 7810, 7845, 7880, 7915, 7950, 7985, 8020, 8055, 8090, 8125, 8160, 8195, 8230, 8265, 8300, 8376, 8408,
         8528, 8568, 8605, 8640, 8675, 8710, 8745, 8780, 8815, 8850, 8885, 8920, 8955, 8990, 9025, 9060, 9095, 9130, 9208, 9228, 9265,
         9300, 9335, 9370, 9405, 9440, 9475, 9510, 9545, 9580, 9615, 9650, 9685, 9720, 9755, 9790, 9845]
s6201 = [0, 80, 210, 270, 330, 380, 420, 455, 490, 525, 560, 620, 650, 685, 720, 755, 790, 825, 860, 960, 1010, 1045, 1080, 1115, 1150, 1185,
         1240, 1265, 1300, 1335, 1370, 1405, 1440, 1475, 1545, 1575, 1610, 1645, 1680, 1715, 1835, 1885, 1920, 1955, 1990, 2025, 2060,
         2095, 2130, 2165, 2230, 2295, 2335, 2370, 2405, 2440, 2475, 2510, 2545, 2580, 2615, 2650, 2685, 2720, 2760, 2845, 2955, 2990,
         3025, 3060, 3095, 3130, 3165, 3200, 3235, 3270, 3305, 3340, 3434, 3526, 3560, 3595, 3630, 3665, 3700, 3735, 3770, 3805, 3840,
         3875, 3910, 3945, 3980, 4015, 4100, 4180, 4234, 4270, 4305, 4340, 4375, 4410, 4445, 4480, 4515, 4550, 4585, 4620, 4655, 4690,
         4725, 4760, 4795, 4830, 4894, 5014, 5050, 5085, 5120, 5155, 5190, 5225, 5260, 5295, 5330, 5365, 5400, 5435, 5470, 5505, 5540,
         5575, 5610, 5645, 5680, 5715, 5750, 5785, 5820, 5855, 5920, 5974, 5994, 6030, 6065, 6130, 6194, 6222, 6260, 6295, 6330, 6365,
         6438, 6494, 6598, 6668, 6740, 6808, 6848, 6885, 6920, 6955, 6990, 7025, 7060, 7120, 7168, 7205, 7240, 7275, 7310, 7345, 7380,
         7415, 7450, 7485, 7520, 7555, 7590, 7625, 7660, 7695, 7730, 7765, 7800, 7835, 7870, 7948, 7960, 7995, 8030, 8065, 8100, 8135,
         8170, 8215, 8256, 8400, 8480, 8568, 8640, 8675, 8710, 8745, 8780, 8815, 8850, 8885, 8948, 8968, 9005, 9040, 9075, 9110, 9145,
         9180, 9215, 9250, 9285, 9348, 9368, 9405, 9440, 9505, 9568, 9608, 9645, 9680, 9715, 9750, 9785, 9845]
s6202 = [0, 70, 130, 165, 200, 235, 270, 305, 340, 400, 440, 530, 570, 660, 920, 955, 990, 1025, 1060, 1095, 1130, 1165, 1200, 1235, 1270, 1305,
         1340, 1375, 1410, 1445, 1480, 1515, 1550, 1615, 1655, 1690, 1725, 1815, 1905, 1940, 1975, 2010, 2045, 2080, 2115, 2195, 2245,
         2280, 2315, 2350, 2385, 2420, 2455, 2490, 2525, 2560, 2595, 2630, 2665, 2735, 2765, 2800, 2835, 2870, 2905, 2940, 2975, 3010,
         3045, 3080, 3115, 3150, 3185, 3220, 3286, 3334, 3370, 3405, 3440, 3475, 3510, 3545, 3580, 3615, 3650, 3685, 3750, 3814, 3874,
         3945, 4015, 4114, 4154, 4190, 4225, 4260, 4295, 4330, 4365, 4400, 4435, 4534, 4594, 4630, 4665, 4700, 4735, 4770, 4805, 4840,
         4875, 4910, 4945, 4980, 5015, 5050, 5085, 5120, 5155, 5262, 5334, 5370, 5405, 5440, 5475, 5510, 5545, 5610, 5680, 5734, 5770,
         5805, 5840, 5875, 5910, 5945, 5980, 6015, 6050, 6085, 6120, 6155, 6190, 6225, 6260, 6295, 6374, 6454, 6525, 6614, 6708, 6745,
         6780, 6815, 6850, 6885, 6920, 6955, 6990, 7050, 7108, 7148, 7185, 7220, 7255, 7290, 7325, 7360, 7428, 7456, 7495, 7530, 7565,
         7600, 7635, 7670, 7705, 7740, 7775, 7810, 7845, 7880, 7915, 7950, 7985, 8020, 8055, 8090, 8125, 8160, 8195, 8230, 8265, 8300,
         8335, 8370, 8405, 8440, 8475, 8510, 8545, 8580, 8615, 8650, 8685, 8720, 8816, 8928, 8965, 9000, 9035, 9070, 9105, 9140, 9208,
         9278, 9315, 9350, 9385, 9420, 9455, 9490, 9525, 9560, 9595, 9630, 9665, 9700, 9735, 9770, 9845]
s6203 = [0, 70, 150, 250, 330, 365, 400, 435, 470, 525, 580, 660, 695, 730, 765, 800, 835, 870, 905, 940, 975, 1010, 1045, 1080, 1115, 1150,
         1185, 1220, 1280, 1305, 1340, 1375, 1410, 1445, 1515, 1585, 1615, 1650, 1685, 1720, 1755, 1790, 1825, 1860, 1895, 1930, 1965,
         2000, 2035, 2070, 2105, 2140, 2175, 2210, 2245, 2335, 2375, 2445, 2535, 2635, 2670, 2705, 2740, 2775, 2810, 2845, 2880, 2915,
         2950, 2985, 3020, 3055, 3090, 3125, 3160, 3195, 3240, 3294, 3394, 3455, 3514, 3554, 3590, 3625, 3660, 3695, 3730, 3765, 3810,
         3854, 3902, 3940, 3975, 4010, 4045, 4090, 4134, 4154, 4190, 4225, 4260, 4295, 4374, 4414, 4450, 4485, 4520, 4555, 4620, 4684,
         4746, 4785, 4820, 4855, 4890, 4925, 4960, 4995, 5030, 5065, 5100, 5135, 5170, 5205, 5240, 5275, 5310, 5345, 5380, 5415, 5450,
         5485, 5520, 5555, 5590, 5625, 5660, 5695, 5730, 5765, 5800, 5835, 5870, 5940, 6014, 6054, 6090, 6125, 6160, 6195, 6230, 6265,
         6300, 6335, 6414, 6474, 6510, 6545, 6580, 6615, 6694, 6730, 6765, 6800, 6835, 6870, 6905, 6965, 7028, 7056, 7095, 7130, 7165,
         7200, 7235, 7270, 7305, 7340, 7428, 7468, 7510, 7560, 7640, 7668, 7705, 7740, 7775, 7810, 7845, 7880, 7915, 7950, 7985, 8020,
         8055, 8090, 8125, 8160, 8220, 8278, 8316, 8355, 8390, 8425, 8460, 8495, 8530, 8565, 8600, 8635, 8670, 8705, 8740, 8775, 8810,
         8845, 8880, 8915, 8950, 8985, 9020, 9055, 9090, 9125, 9160, 9228, 9268, 9305, 9340, 9375, 9410, 9445, 9480, 9515, 9550, 9585,
         9620, 9655, 9690, 9725, 9760, 9845]
s6204 = [0, 70, 130, 180, 250, 320, 440, 520, 590, 700, 750, 800, 870, 940, 1010, 1080, 1150, 1220, 1300, 1320, 1390, 1495, 1505, 1615,
         1695, 1765, 1835, 1905, 1975, 2045, 2115, 2185, 2255, 2335, 2375, 2535, 2605, 2675, 2745, 2915, 2965, 3035, 3105, 3175,
         3245, 3330, 3400, 3470, 3554, 3602, 3702, 3762, 3835, 3905, 4014, 4074, 4194, 4240, 4286, 4360, 4430, 4534, 4554, 4625,
         4754, 4794, 4865, 4935, 5014, 5034, 5105, 5175, 5245, 5314, 5354, 5425, 5495, 5565, 5654, 5700, 5742, 5815, 5902, 5942,
         6015, 6094, 6146, 6220, 6334, 6414, 6485, 6555, 6625, 6694, 6765, 6835, 6928, 7040, 7110, 7180, 7250, 7320, 7390, 7460,
         7530, 7600, 7670, 7740, 7810, 7880, 7950, 8020, 8090, 8160, 8230, 8300, 8370, 8428, 8448, 8520, 8590, 8660, 8730, 8800,
         8870, 8988, 9056, 9108, 9180, 9250, 9308, 9348, 9420, 9490, 9560, 9630, 9700, 9760, 9845]
s6205 = [0, 70, 140, 210, 280, 350, 420, 480, 500, 570, 650, 700, 810, 845, 915, 985, 1055, 1145, 1200, 1260, 1335, 1385, 1485, 1575,
         1675, 1765, 1805, 1875, 1945, 2035, 2115, 2180, 2245, 2295, 2365, 2435, 2555, 2615, 2715, 2795, 2855, 2925, 3055, 3075,
         3145, 3215, 3285, 3355, 3446, 3534, 3654, 3694, 3765, 3835, 3914, 3954, 4025, 4095, 4174, 4214, 4294, 4362, 4435, 4542,
         4594, 4665, 4794, 4934, 5010, 5086, 5134, 5194, 5294, 5314, 5385, 5526, 5554, 5674, 5714, 5802, 5834, 5905, 5974, 6114,
         6185, 6255, 6325, 6395, 6465, 6554, 6654, 6748, 6820, 6890, 6960, 7048, 7108, 7180, 7250, 7320, 7408, 7440, 7515, 7590,
         7670, 7748, 7816, 7890, 7960, 8050, 8128, 8160, 8288, 8348, 8488, 8568, 8628, 8700, 8770, 8840, 8928, 8968, 9040, 9110,
         9180, 9250, 9368, 9456, 9530, 9600, 9670, 9740, 9808]
s6206 = [27, 100, 170, 270, 400, 470, 530, 760, 830, 900, 970, 1040, 1135, 1210, 1350, 1440, 1515, 1585, 1695, 1805, 1955, 2025, 2095,
         2165, 2235, 2335, 2435, 2505, 2635, 2695, 2765, 2835, 2955, 3090, 3160, 3230, 3330, 3400, 3470, 3540, 3634, 3705, 3775,
         3924, 4042, 4154, 4214, 4300, 4384, 4474, 4545, 4615, 4685, 4814, 5034, 5126, 5222, 5294, 5365, 5435, 5534, 5614, 5754,
         5815, 5874, 5982, 6034, 6105, 6175, 6245, 6315, 6434, 6566, 6662, 6628, 6700, 6770, 6868, 6908, 6980, 7050, 7120, 7188,
         7228, 7358, 7560, 7640, 7720, 7788, 7848, 7908, 7980, 8050, 8148, 8168, 8240, 8310, 8380, 8488, 8528, 8608, 8690, 8760,
         8848, 8920, 8990, 9060, 9130, 9228, 9268, 9340, 9410, 9480, 9550, 9628, 9688, 9760, 9845]
s6207 = [27, 90, 170, 250, 360, 420, 480, 760, 840, 910, 980, 1050, 1130, 1180, 1240, 1300, 1360, 1495, 1565, 1635, 1715, 1835, 1955, 2115,
         2335, 2415, 2495, 2555, 2675, 2715, 2855, 2955, 3025, 3095, 3165, 3275, 3242, 3366, 3454, 3574, 3646, 3720, 3794, 3902,
         3994, 4065, 4135, 4205, 4275, 4345, 4415, 4485, 4574, 4654, 4754, 4814, 4862, 4935, 5005, 5126, 5220, 5274, 5345, 5415,
         5494, 5542, 5654, 5742, 5794, 5874, 5962, 6046, 6162, 6242, 6354, 6434, 6494, 6554, 6634, 6800, 6968, 7088, 7280, 7368,
         7440, 7510, 7580, 7650, 7720, 7848, 7948, 8020, 8090, 8160, 8230, 8300, 8408, 8488, 8560, 8630, 8748, 8800, 8868, 8940,
         9010, 9080, 9150, 9220, 9290, 9428, 9520, 9628, 9728, 9828]
s6208 = [120, 300, 380, 460, 560, 660, 760, 1005, 1120, 1220, 1320, 1495, 1575, 1655, 1770, 1875, 1975, 2055, 2180, 2300, 2420, 2675, 2775,
         2875, 2930, 3110, 3250, 3354, 3494, 3574, 3874, 3994, 4074, 4214, 4414, 4514, 4674, 4764, 4854, 5014, 5154, 5230, 5310,
         5390, 5454, 5514, 5614, 5726, 5814, 5894, 5954, 6050, 6154, 6214, 6334, 6474, 6534, 6662, 6648, 6750, 6848, 6908, 6990,
         7070, 7150, 7230, 7310, 7428, 7608, 7668, 7750, 7828, 7908, 7988, 8060, 8138, 8208, 8338, 8376, 8450, 8530, 8610, 8688,
         8728, 8820, 8908, 9148, 9250, 9348, 9388, 9470, 9550, 9630, 9700, 9768]
s6209 = [0, 40, 160, 250, 340, 410, 490, 560, 640, 760, 860, 980, 1040, 1100, 1160, 1225, 1320, 1420, 1535, 1605, 1675, 1735, 1946, 2155,
         2250, 2345, 2440, 2530, 2610, 2710, 2810, 2900, 3000, 3090, 3190, 3260, 3330, 3300, 3400, 3500, 3594, 3754, 3894, 4002,
         4074, 4140, 4206, 4294, 4414, 4470, 4514, 4610, 4700, 4790, 4862, 4894, 4974, 5054, 5094, 5180, 5265, 5354, 5434, 5534,
         5606, 5746, 5926, 6000, 6074, 6194, 6280, 6370, 6474, 6574, 6640, 6708, 6768, 6888, 6956, 7068, 7148, 7188, 7268, 7348,
         7388, 7480, 7568, 7588, 7680, 7770, 7868, 8068, 8168, 8208, 8300, 8400, 8488, 8536, 8630, 8728, 8820, 8920, 9020, 9140,
         9228, 9300, 9368, 9388, 9450, 9508, 9536, 9630, 9730, 9828]
s6210 = [10, 36, 452, 824, 1088, 1232, 1268, 1472, 1640, 1772, 2024, 2108, 2168, 2216, 2336, 2432, 2792, 2936, 3032, 3104, 3140, 3176, 3344,
         3512, 3608, 4088, 4148, 4184, 4304, 4328, 4460, 4956, 5028, 5064, 5112, 5184, 5508, 5580, 5628, 5652, 5736, 5904, 6096,
         6324, 6380, 6440, 6480, 6712, 6864, 7008, 7140, 7620, 7644, 7764, 7812, 7884, 7968, 8316, 8412, 8472, 8532, 8592, 8652,
         8852, 9000, 9084, 9216, 9264, 9356, 9492, 9552, 9588]
s6211 = [56, 116, 236, 296, 320, 368, 608, 800, 908, 1020, 1160, 1220, 1400, 1496, 1544, 1592, 1628, 2216, 2300, 2468, 2564, 2600, 2720,
         2804, 2900, 2948, 3140, 3320, 3380, 3596, 3692, 3752, 3812, 3848, 3884, 3956, 4004, 4076, 4160, 4220, 4484, 4604, 4664,
         4892, 4980, 5040, 5092, 5208, 5244, 5328, 5388, 5436, 5580, 5628, 5676, 5700, 5796, 5844, 5880, 5940, 6204, 6252, 6300,
         6468, 6564, 6636, 6720, 6840, 6888, 7032, 7080, 7152, 7200, 7272, 7320, 7392, 7452, 7536, 7668, 7800, 7860, 7920, 7980,
         8052, 8112, 8160, 8256, 8304, 8444, 8532, 8568, 8868, 8928, 9120, 9168, 9240, 9372, 9540, 9672]
s6212 = [44, 272, 416, 908, 1256, 1592, 2000, 2084, 2312, 2348, 2408, 2528, 2576, 2672, 2732, 2780, 2828, 2900, 3044, 3128, 3212, 3656,
         3764, 3812, 4028, 4352, 4580, 4676, 4748, 5004, 5088, 5172, 5220, 5268, 5316, 5460, 5508, 5568, 5928, 5964, 6192, 6888,
         6936, 6984, 7104, 7344, 7644, 7776, 8076, 8196, 8484, 8580, 8640, 8712, 8880, 9132, 9444, 9492, 9540, 9672, 9768, 9816,
         9845]
s6213 = [200, 956, 1664, 2060, 2252, 2540, 2648, 2984, 3284, 3452, 3476, 3704, 3836, 3860, 4112, 4232, 4556, 4952, 4992, 5256, 5388, 5472,
         5628, 6132, 6816, 6912, 7116, 7200, 7440, 7536, 7776, 7824, 7932, 8244, 8328, 8556, 8688, 8820, 8880, 8940, 8964, 9192,
         9252, 9348, 9540, 9588, 9744, 9792, 9828]
s6214 = [56, 188, 944, 1748, 1772, 2168, 2252, 2384, 2480, 2780, 2840, 3152, 3308, 3548, 3608, 3992, 4508, 4700, 4760, 5484, 5676, 5692,
         5808, 5880, 6288, 6432, 7152, 7212, 7356, 7596, 7812, 8028, 8076, 8304, 8376, 8616, 8856, 9372, 9420, 9516, 9684, 9756,
         9840]
s6215 = [1124, 1292, 1952, 3164, 3296, 3644, 4220, 4292, 4688, 4748, 5160, 5964, 6228, 6576, 7164, 7212, 7272, 7788, 7848, 7956, 8148,
         9600, 9696]
s6216 = [44, 284, 2000, 2864, 3020, 3368, 3848, 3920, 4256, 4556, 4616, 4900, 5112, 5388, 6216, 6888, 7236, 7836, 8004, 8232, 8340, 8640,
         8940, 9180, 9288, 9516, 9564, 9624, 9816, 9845]
s6217 = [1544, 3092, 3440, 4508, 5076, 6012, 6372, 6900, 7248, 7380, 7752, 7872, 7896, 8112, 8172, 8348, 8616, 9576, 9768, 9804]
s6218 = [404, 572, 648, 1388, 4748, 5292, 5556, 6972, 8328, 8532, 9612, 9708]
s6219 = [3296, 9845]
s6220 = [116, 380, 5088, 8376]
s6221 = [3236, 4900, 8028, 8688, 9072]
s6222 = [4640, 7872, 9024, 9168]
s6223 = [3704, 4172, 6348]
s6224 = [6984, 7164, 9048]
s6225 = [7392, 7560, 7620, 9096]
s6227 = [5292]
s6228 = [5412]

levels = [6166, 6169, 6170, 6171, 6172, 6173, 6174, 6175, 6176, 6177, 6178, 6179, 6180, 6181, 6182, 6183, 6184,
          6185, 6186, 6187, 6188, 6189, 6190, 6191, 6192, 6193, 6194, 6195, 6196, 6197, 6198, 6199, 6200, 6201, 6202,
          6203, 6204, 6205, 6206, 6207, 6208, 6209, 6210, 6211, 6212, 6213, 6214, 6215, 6216, 6217, 6218, 6219, 6220,
          6221, 6222, 6223, 6224, 6225, 6227, 6228]
rows = [s6166, s6169, s6170, s6171, s6172, s6173, s6174, s6175, s6176, s6177, s6178, s6179, s6180, s6181, s6182, s6183, s6184,
        s6185, s6186, s6187, s6188, s6189, s6190, s6191, s6192, s6193, s6194, s6195, s6196, s6197, s6198, s6199, s6200, s6201, s6202,
        s6203, s6204, s6205, s6206, s6207, s6208, s6209, s6210, s6211, s6212, s6213, s6214, s6215, s6216, s6217, s6218, s6219, s6220,
        s6221, s6222, s6223, s6224, s6225, s6227, s6228]

mean_adc = 6196.76
sigma_adc = 8.0

# flatten the per level lists into x/y
x = []
y = []
for level, row in zip(levels, rows):
    x.extend(row)
    y.extend([level] * len(row))

fig, ax = plt.subplots(figsize=(10, 10), dpi=100)
ax.plot(x, y, ".", color="black", label=f"Samples\n$\\mu$ = {mean_adc}, $\\sigma$ = {sigma_adc}")
ax.set_title("Run 662, channel107, Pedestal")
ax.set_xlabel("Sample #")
ax.set_ylabel("ADC Counts")
ax.grid(True)
ax.legend(loc="upper right")
fig.subplots_adjust(left=0.0805, right=0.985, top=0.964, bottom=0.059)
fig.savefig("out.png")
